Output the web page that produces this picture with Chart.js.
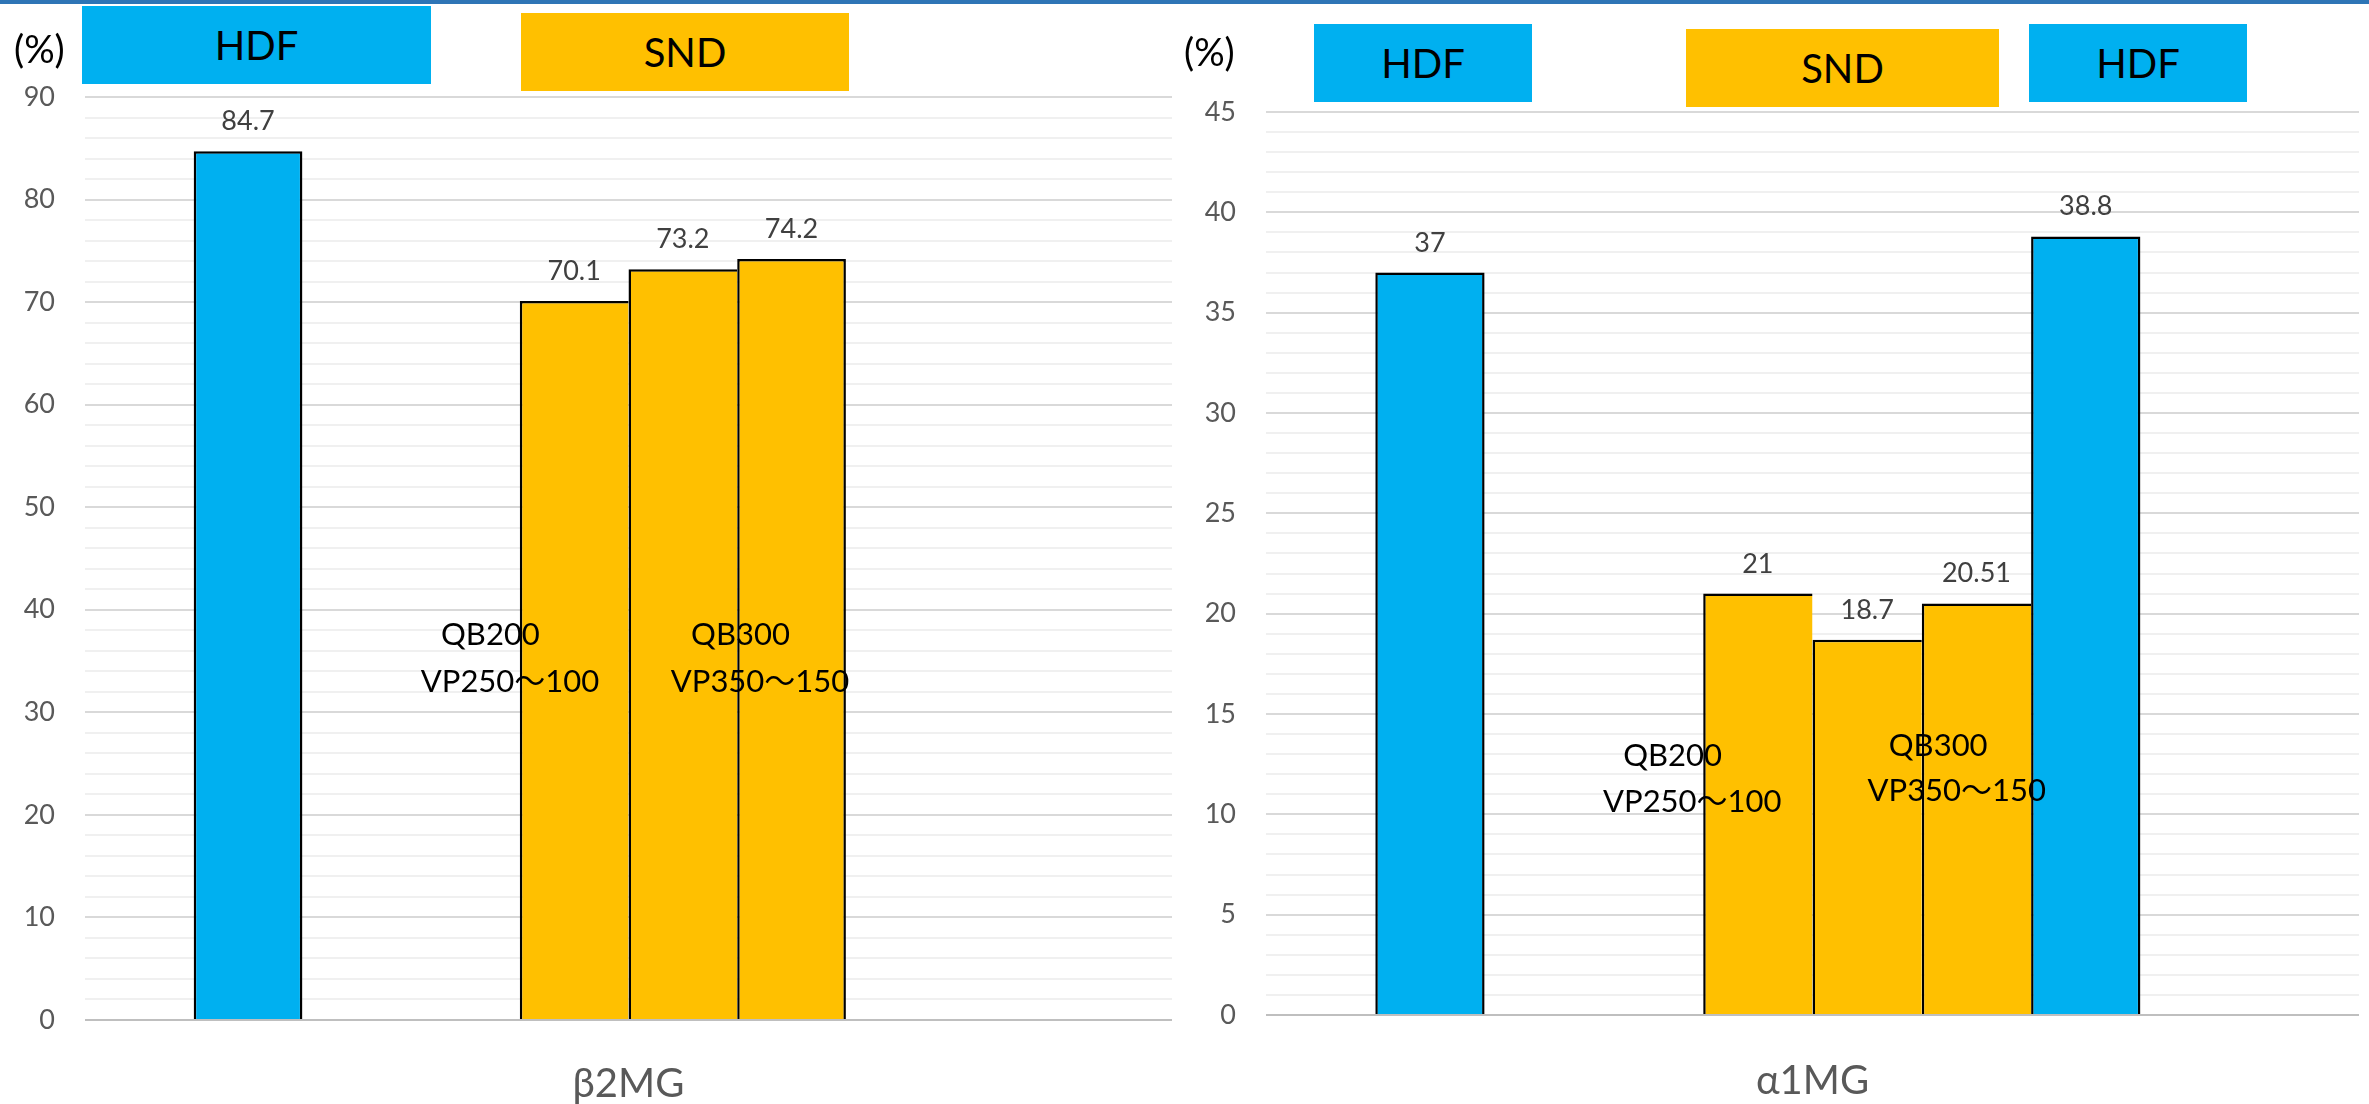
<!DOCTYPE html>
<html>
<head>
<meta charset="utf-8">
<title>β2MG / α1MG</title>
<script src="https://cdn.jsdelivr.net/npm/chart.js@4.4.1/dist/chart.umd.min.js"></script>
<style>
  html, body { margin: 0; padding: 0; background: #fff; width: 2369px; height: 1104px; overflow: hidden;
               font-family: Lato, 'Noto Sans CJK JP', sans-serif; }
  .topline { position: absolute; left: 0; top: 0; width: 2369px; height: 4px; background: #2E75B6; }
  .panel { position: absolute; top: 0; height: 1104px; }
  #leftPanel { left: 0; width: 1184px; }
  #rightPanel { left: 1184px; width: 1185px; }
  .tag { position: absolute; display: flex; align-items: center; justify-content: center;
         font-size: 40px; color: #000; }
  .hdf { background: #00B0F0; }
  .snd { background: #FFC000; }
  .unit { position: absolute; font-size: 38px; color: #000; line-height: 40px; }
</style>
</head>
<body>
<div class="topline"></div>

<div class="panel" id="leftPanel"><canvas id="betaChart" width="1184" height="1104"></canvas></div>
<div class="panel" id="rightPanel"><canvas id="alphaChart" width="1185" height="1104"></canvas></div>

<!-- unit captions and group tags above each plot -->
<div class="unit" style="left:14px; top:28px;">(%)</div>
<div class="tag hdf" style="left:82px; top:6px; width:349px; height:78px;">HDF</div>
<div class="tag snd" style="left:521px; top:13px; width:328px; height:78px;">SND</div>

<div class="unit" style="left:1184px; top:31px;">(%)</div>
<div class="tag hdf" style="left:1314px; top:24px; width:218px; height:78px;">HDF</div>
<div class="tag snd" style="left:1686px; top:29px; width:313px; height:78px;">SND</div>
<div class="tag hdf" style="left:2029px; top:24px; width:218px; height:78px;">HDF</div>

<script>
// ---- data -------------------------------------------------------------
// Each chart is one category holding eight series slots; null = empty slot.
const slotKinds     = ['HDF', '', '', 'SND', 'SND', 'SND', 'HDF', ''];

const betaCategory  = ['β2MG'];
const betaValues    = [84.7, null, null, 70.1, 73.2, 74.2, null, null];
const betaTicks     = [0, 10, 20, 30, 40, 50, 60, 70, 80, 90];

const alphaCategory = ['α1MG'];
const alphaValues   = [37, null, null, 21, 18.7, 20.51, 38.8, null];
const alphaTicks    = [0, 5, 10, 15, 20, 25, 30, 35, 40, 45];

// Condition notes written over the SND bars: text, horizontal position
// (fraction of plot width) and height (in axis units).
const betaNotes = [
  { text: 'QB200',       at: 0.373, value: 37.5 },
  { text: 'VP250～100',  at: 0.391, value: 33.0 },
  { text: 'QB300',       at: 0.603, value: 37.5 },
  { text: 'VP350～150',  at: 0.621, value: 33.0 }
];
const alphaNotes = [
  { text: 'QB200',       at: 0.372, value: 12.9 },
  { text: 'VP250～100',  at: 0.390, value: 10.6 },
  { text: 'QB300',       at: 0.615, value: 13.4 },
  { text: 'VP350～150',  at: 0.632, value: 11.15 }
];

// ---- styling ----------------------------------------------------------
const COLORS = { HDF: '#00B0F0', SND: '#FFC000', '': '#FFFFFF' };
const FONT = "Lato, 'Noto Sans CJK JP', sans-serif";
const EDGE = 2.5;

// value printed above every bar
const valueLabels = {
  id: 'valueLabels',
  afterDatasetsDraw(chart) {
    const ctx = chart.ctx;
    ctx.save();
    ctx.font = '27px ' + FONT;
    ctx.fillStyle = '#404040';
    ctx.textAlign = 'center';
    ctx.textBaseline = 'alphabetic';
    chart.data.datasets.forEach((ds, i) => {
      const meta = chart.getDatasetMeta(i);
      meta.data.forEach((bar, j) => {
        const v = ds.data[j];
        if (v === null || v === undefined) return;
        ctx.fillText(String(v), bar.x, bar.y - 21);
      });
    });
    ctx.restore();
  }
};

// free text notes, placed through the chart's own scale
const notesPlugin = {
  id: 'notes',
  afterDatasetsDraw(chart, args, opts) {
    const ctx = chart.ctx;
    const area = chart.chartArea;
    const y = chart.scales.y;
    ctx.save();
    ctx.font = '31px ' + FONT;
    ctx.fillStyle = '#000';
    ctx.textAlign = 'center';
    ctx.textBaseline = 'middle';
    (opts.items || []).forEach(n => {
      ctx.fillText(n.text, area.left + n.at * area.width, y.getPixelForValue(n.value));
    });
    ctx.restore();
  }
};

function makeChart(id, category, values, ticks, notes, geom) {
  const major = ticks[1] - ticks[0];
  const datasets = values.map((v, i) => {
    // touching neighbours share one outline instead of doubling it
    const neighbourRight = i + 1 < values.length && values[i + 1] !== null;
    return {
      label: slotKinds[i] || ('slot ' + (i + 1)),
      data: [v],
      backgroundColor: COLORS[slotKinds[i]],
      borderColor: '#000000',
      borderWidth: { top: EDGE, left: EDGE, right: neighbourRight ? 0 : EDGE, bottom: 0 },
      borderSkipped: false,
      categoryPercentage: 0.8,
      barPercentage: 1.0
    };
  });

  return new Chart(document.getElementById(id), {
    type: 'bar',
    data: { labels: category, datasets },
    plugins: [valueLabels, notesPlugin],
    options: {
      responsive: false,
      animation: false,
      events: [],
      layout: { padding: { left: 0, top: geom.top, right: geom.right, bottom: 0 } },
      plugins: {
        legend: { display: false },
        tooltip: { enabled: false },
        notes: { items: notes }
      },
      scales: {
        x: {
          grid: { display: false, drawTicks: false },
          border: { display: false },
          ticks: { color: '#595959', font: { family: FONT, size: 40 }, padding: geom.xPad },
          afterFit(s) { s.height = geom.xHeight; }
        },
        y: {
          min: ticks[0],
          max: ticks[ticks.length - 1],
          border: { display: false },
          grid: {
            drawTicks: false,
            lineWidth: 2,
            color: c => {
              if (!c.tick) return '#F0F0F0';
              if (c.tick.value === 0) return '#BFBFBF';
              return c.tick.value % major === 0 ? '#D9D9D9' : '#F0F0F0';
            }
          },
          ticks: {
            stepSize: geom.minor,
            autoSkip: false,
            padding: 30,
            color: '#595959',
            font: { family: FONT, size: 27 },
            callback: v => ticks.includes(v) ? String(v) : ''
          },
          afterFit(s) { s.width = geom.yWidth; }
        }
      }
    }
  });
}

makeChart('betaChart', betaCategory, betaValues, betaTicks, betaNotes,
  { top: 97, right: 12, yWidth: 85, xHeight: 84, xPad: 40, minor: 2 });
makeChart('alphaChart', alphaCategory, alphaValues, alphaTicks, alphaNotes,
  { top: 112, right: 10, yWidth: 82, xHeight: 89, xPad: 42, minor: 1 });
</script>
</body>
</html>
